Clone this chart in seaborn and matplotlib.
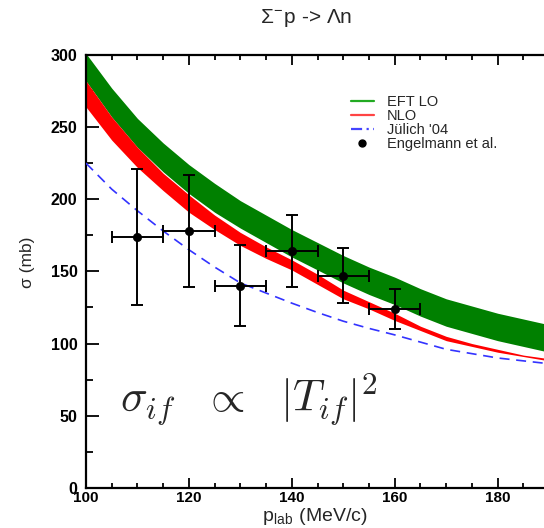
import numpy as np
import pandas as pd
import matplotlib
matplotlib.use("Agg")
import matplotlib.pyplot as plt
from matplotlib.lines import Line2D
from matplotlib.ticker import MultipleLocator
import seaborn as sns

# Lab momentum grid (MeV/c) for the theory curves
p_lab = [100, 105, 110, 115, 120, 125, 130, 135, 140, 145,
         150, 155, 160, 165, 170, 175, 180, 185, 190]

# EFT LO band (mb)
lo_upper = [301, 277, 256, 239, 224, 211, 199, 189, 179, 170,
            161, 153, 146, 138, 131, 126, 121, 117, 113]
lo_lower = [282, 257, 236, 219, 204, 191, 180, 170, 160, 151,
            142, 134, 127, 119, 112, 107, 102, 98, 94]

# NLO band (mb)
nlo_upper = [282, 257, 236, 218, 203, 189, 177, 167, 158, 148,
             137, 129, 121, 112, 105, 100, 96, 92, 89.5]
nlo_lower = [264, 241, 222, 206, 191, 179, 168, 159, 151, 141,
             131, 124, 116, 109, 102, 98, 94, 91, 88]

# Juelich '04 model (mb)
juelich = [225, 207, 192, 178, 165, 153, 142, 135, 128, 121.5,
           115.5, 110.5, 106, 101, 96, 93, 90, 88, 86]

# Engelmann et al. measurements
exp_p = [110, 120, 130, 140, 150, 160]
exp_sigma = [174, 178, 140, 164, 147, 124]
exp_err = [47, 39, 28, 25, 19, 14]
exp_perr = [5, 5, 5, 5, 5, 5]

sns.set_theme(style="ticks")
plt.rcParams["font.family"] = ["Liberation Sans", "DejaVu Sans"]
plt.rcParams["mathtext.fontset"] = "cm"

fig = plt.figure(figsize=(5.44, 5.28), dpi=100)
ax = fig.add_axes([0.158, 0.076, 0.842, 0.82])

ax.fill_between(p_lab, lo_lower, lo_upper, color="#008000", lw=0, zorder=2)
ax.fill_between(p_lab, nlo_lower, nlo_upper, color="#ff0000", lw=0, zorder=2)

curve = pd.DataFrame({"p": p_lab, "sigma": juelich})
sns.lineplot(data=curve, x="p", y="sigma", ax=ax, color="#3333ff",
             lw=1.2, zorder=3)
ax.lines[-1].set_dashes([6, 4])

ax.errorbar(exp_p, exp_sigma, yerr=exp_err, xerr=exp_perr, fmt="none",
            ecolor="black", elinewidth=1.4, capsize=4, capthick=1.4, zorder=4)
sns.scatterplot(x=exp_p, y=exp_sigma, ax=ax, color="black", s=36,
                edgecolor="black", zorder=5)

ax.set_xlim(100, 189)
ax.set_ylim(0, 300)
ax.xaxis.set_major_locator(MultipleLocator(20))
ax.xaxis.set_minor_locator(MultipleLocator(5))
ax.yaxis.set_major_locator(MultipleLocator(50))
ax.yaxis.set_minor_locator(MultipleLocator(25))
ax.tick_params(which="both", direction="in", top=True, right=False,
               width=1.3, colors="black", labelsize=11.5)
ax.tick_params(axis="y", which="major", length=9.5, pad=6)
ax.tick_params(axis="y", which="minor", length=5)
ax.tick_params(axis="x", which="major", length=7, pad=2, labelsize=11)
ax.tick_params(axis="x", which="minor", length=3.5)
for lab in ax.get_xticklabels() + ax.get_yticklabels():
    lab.set_fontweight("bold")
for side in ["left", "bottom", "top"]:
    ax.spines[side].set_linewidth(1.6)
    ax.spines[side].set_color("black")
ax.spines["right"].set_visible(False)

ax.set_xlabel(r"p$_{\mathregular{lab}}$ (MeV/c)", fontsize=14, labelpad=1)
ax.set_ylabel("σ (mb)", fontsize=12.5)
ax.yaxis.set_label_coords(-0.112, 0.52)

fig.text(0.563, 0.965, "Σ$^{\\mathregular{-}}$p -> Λn", ha="center",
         va="center", fontsize=15)

handles = [
    Line2D([], [], color="#22aa22", lw=1.6),
    Line2D([], [], color="#ff4444", lw=1.6),
    Line2D([], [], color="#4444ff", lw=1.6, dashes=(5, 2, 1, 2)),
    Line2D([], [], color="black", marker="o", ms=5, lw=0),
]
ax.legend(handles, ["EFT LO", "NLO", "Jülich '04", "Engelmann et al."],
          loc="upper left", bbox_to_anchor=(0.562, 0.925), frameon=False,
          fontsize=10.5, handlelength=1.6, handletextpad=0.9,
          labelspacing=0.0, borderpad=0)

ax.text(0.075, 0.205, r"$\sigma_{if}\;\;\,\propto\;\;\,|T_{if}|^2$",
        transform=ax.transAxes, fontsize=32, ha="left", va="center")

fig.savefig("out.png", dpi=100)
